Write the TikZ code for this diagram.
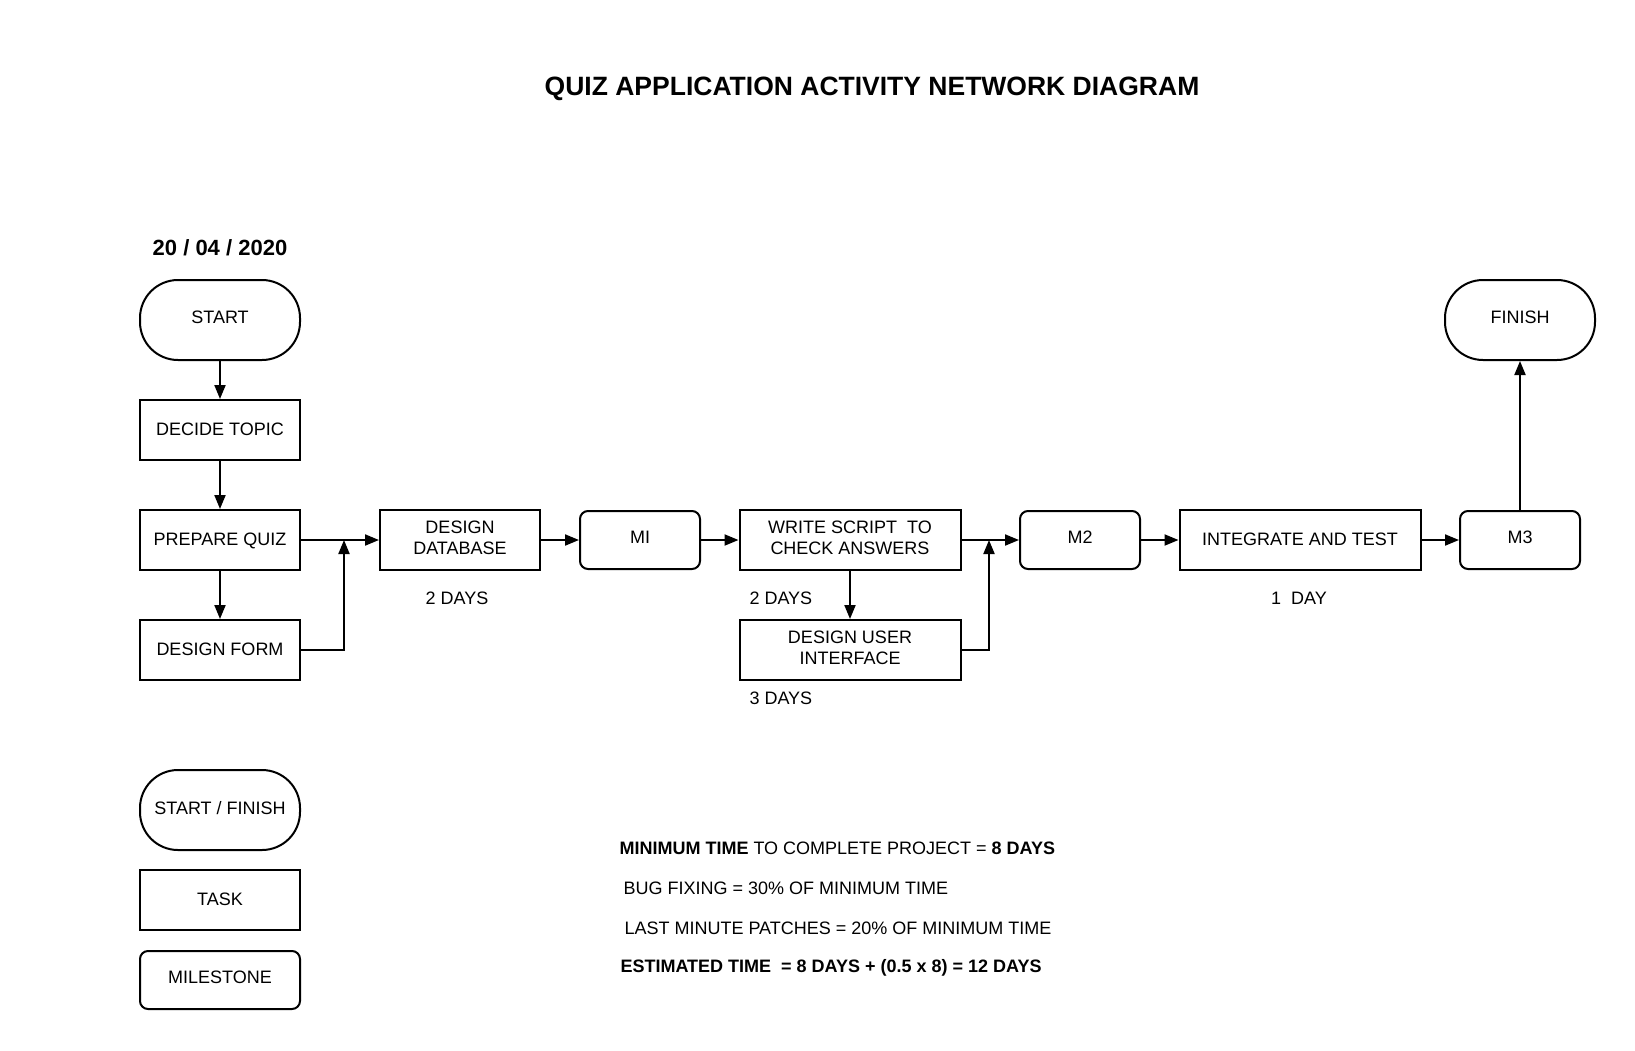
\documentclass[tikz,border=0pt]{standalone}
\usepackage{fontspec}
\setmainfont{Liberation Sans}
\usetikzlibrary{arrows.meta,positioning}

\tikzset{
  txt/.style={font=\fontsize{18}{21}\selectfont},
  task/.style={txt, draw, line width=2pt, minimum width=160pt, minimum height=60pt, inner sep=2pt, align=center, text depth=1pt},
  twoline/.style={text depth=5pt},
  mile/.style={txt, draw, line width=2pt, rounded corners=8pt, minimum width=120pt, minimum height=58pt, text depth=5pt},
  term/.style={txt, draw, line width=2pt, rounded corners=38pt, minimum width=160pt, minimum height=80pt, text depth=5pt},
  conn/.style={line width=2pt, -{Triangle[length=14pt,width=11pt]}},
}

\begin{document}
\begin{tikzpicture}[x=1pt, y=-1pt]
  \useasboundingbox (0,0) rectangle (1635,1050);

  % タイトル
  \node[font=\bfseries\fontsize{26.5}{30}\selectfont] (title) at (872,89) {QUIZ APPLICATION ACTIVITY NETWORK DIAGRAM};
  \node[font=\bfseries\fontsize{22}{26}\selectfont] (date) at (220,248) {20 / 04 / 2020};

  % ノード
  \node[term] (start) at (220,320) {START};
  \node[task] (topic) at (220,430) {DECIDE TOPIC};
  \node[task] (prepare) at (220,540) {PREPARE QUIZ};
  \node[task] (form) at (220,650) {DESIGN FORM};
  \node[task, twoline] (database) at (460,540) {DESIGN\\DATABASE};
  \node[mile] (mi) at (640,540) {MI};
  \node[task, twoline, minimum width=221pt] (script) at (850,540) {WRITE SCRIPT\ \ TO\\CHECK ANSWERS};
  \node[task, twoline, minimum width=221pt] (ui) at (850,650) {DESIGN USER\\INTERFACE};
  \node[mile] (mtwo) at (1080,540) {M2};
  \node[task, minimum width=241pt] (integrate) at (1300,540) {INTEGRATE AND TEST};
  \node[mile] (mthree) at (1520,540) {M3};
  \node[term, minimum width=150pt] (finish) at (1520,320) {FINISH};

  % 日数
  \node[txt] (dbdays) at (457,598) {2 DAYS};
  \node[txt, anchor=west] (scdays) at (746,598) {2 DAYS};
  \node[txt, anchor=west] (uidays) at (746,698) {3 DAYS};
  \node[txt] (itdays) at (1299,598) {1\ \ DAY};

  % 合流点
  \coordinate (jone) at (344,540);
  \coordinate (jtwo) at (989,540);

  % 矢印
  \draw[conn] (start) -- (topic);
  \draw[conn] (topic) -- (prepare);
  \draw[conn] (prepare) -- (form);
  \draw[conn] (prepare) -- (database);
  \draw[conn] (form.east) -| (jone);
  \draw[conn] (database) -- (mi);
  \draw[conn] (mi) -- (script);
  \draw[conn] (script) -- (ui);
  \draw[conn] (script) -- (mtwo);
  \draw[conn] (ui.east) -| (jtwo);
  \draw[conn] (mtwo) -- (integrate);
  \draw[conn] (integrate) -- (mthree);
  \draw[conn] (mthree) -- (finish);

  % 凡例
  \node[term] (legstart) at (220,810) {START / FINISH};
  \node[task] (legtask) at (220,900) {TASK};
  \node[mile, minimum width=160pt] (legmile) at (220,980) {MILESTONE};

  % 見積もり
  \node[txt, anchor=west] (lineone) at (616,848) {\textbf{MINIMUM TIME} TO COMPLETE PROJECT = \textbf{8 DAYS}};
  \node[txt, anchor=west] (linetwo) at (620,888) {BUG FIXING = 30\% OF MINIMUM TIME};
  \node[txt, anchor=west] (linethree) at (621,928) {LAST MINUTE PATCHES = 20\% OF MINIMUM TIME};
  \node[txt, anchor=west, font=\bfseries\fontsize{18}{21}\selectfont] (linefour) at (617,968) {ESTIMATED TIME\ \ = 8 DAYS + (0.5 x 8) = 12 DAYS};
\end{tikzpicture}
\end{document}
